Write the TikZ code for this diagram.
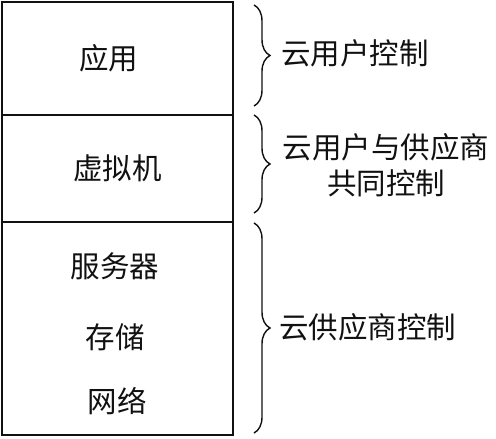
\documentclass[tikz,border=0pt]{standalone}
\usepackage{fontspec}
\newfontfamily\cjk{Noto Sans CJK SC}
\usetikzlibrary{positioning,decorations.pathreplacing}
\definecolor{ink}{HTML}{111111}
\tikzset{
  layer/.style={draw=ink, line width=2.2pt, minimum width=231pt, inner sep=0pt, outer sep=0pt},
  lab/.style={font=\cjk\fontsize{29.5}{36}\selectfont, text=ink, inner sep=1pt, align=center},
  ctl/.style={decorate, decoration={brace, amplitude=16pt}, draw=ink, line width=1.4pt},
}

\begin{document}
\begin{tikzpicture}[x=1pt, y=-1pt]
  \useasboundingbox (0,0) rectangle (496,439);
  % stack of layers
  \node[layer, minimum height=113pt, anchor=north west] (app) at (2,2) {};
  \node[layer, minimum height=107pt, anchor=north] (vm) at (app.south) {};
  \node[layer, minimum height=213pt, anchor=north] (infra) at (vm.south) {};
  \node[lab] (appname) at ([xshift=-9pt]app.center) {应用};
  \node[lab] (vmname) at (vm.center) {虚拟机};
  \node[lab] (server) at (115,266) {服务器};
  \node[lab] (storage) at (115,337) {存储};
  \node[lab] (network) at (117,401) {网络};
  % who controls what
  \coordinate (userTop) at (254,5);
  \coordinate (userBot) at (254,106);
  \coordinate (sharedTop) at (254,115);
  \coordinate (sharedBot) at (254,213);
  \coordinate (provTop) at (254,223);
  \coordinate (provBot) at (254,433);
  \draw[ctl] (userTop) -- (userBot);
  \draw[ctl] (sharedTop) -- (sharedBot);
  \draw[ctl] (provTop) -- (provBot);
  \node[lab, anchor=west] (userctl) at (280,53) {云用户控制};
  \node[lab] (sharedctl) at (386,165) {云用户与供应商\\共同控制};
  \node[lab, anchor=west] (provctl) at (278,327) {云供应商控制};
\end{tikzpicture}
\end{document}
